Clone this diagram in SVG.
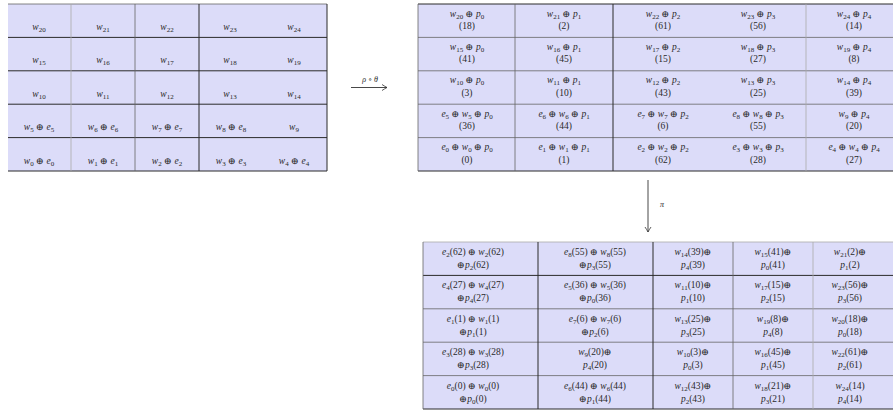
<svg xmlns="http://www.w3.org/2000/svg" width="893" height="412" viewBox="0 0 893 412">
<style>
text{font-family:"Liberation Serif","DejaVu Serif",serif;font-size:9.5px;fill:#2a2a2a;text-anchor:middle;font-style:italic}
.s{font-size:7px;font-style:normal}
.n{font-style:normal}
.fill{fill:#dcdcf9;stroke:none}
.dk{stroke:#2a2a2a;stroke-width:1}
.md{stroke:#666;stroke-width:0.8}
.lt{stroke:#aaa;stroke-width:0.8}
.arr{stroke:#333;stroke-width:0.9;fill:none}
</style>
<defs>
<marker id="ah" markerWidth="8" markerHeight="8" refX="6" refY="4" orient="auto" markerUnits="userSpaceOnUse">
<path d="M1,1 Q4,3 6,4 Q4,5 1,7" fill="none" stroke="#333" stroke-width="0.8"/>
</marker>
</defs>
<rect width="893" height="412" fill="#fff"/>

<!-- Left grid -->
<g id="gridA">
<rect class="fill" x="8" y="4" width="319" height="167"/>
<line class="md" x1="8" y1="4" x2="327" y2="4"/>
<line class="dk" x1="8" y1="37.4" x2="327" y2="37.4"/>
<line class="dk" x1="8" y1="70.8" x2="327" y2="70.8"/>
<line class="dk" x1="8" y1="104.2" x2="327" y2="104.2"/>
<line class="dk" x1="8" y1="137.6" x2="327" y2="137.6"/>
<line class="dk" x1="8" y1="171" x2="327" y2="171"/>
<line class="lt" x1="71" y1="4" x2="71" y2="171"/>
<line class="md" x1="135" y1="4" x2="135" y2="171"/>
<line class="dk" x1="199" y1="4" x2="199" y2="171"/>
<line class="dk" x1="327" y1="4" x2="327" y2="171"/>
</g>
<g id="gridA-text">
<text x="39" y="30">w<tspan class="s" dy="2">20</tspan></text>
<text x="103" y="30">w<tspan class="s" dy="2">21</tspan></text>
<text x="167" y="30">w<tspan class="s" dy="2">22</tspan></text>
<text x="230" y="30">w<tspan class="s" dy="2">23</tspan></text>
<text x="294" y="30">w<tspan class="s" dy="2">24</tspan></text>
<text x="39" y="63.4">w<tspan class="s" dy="2">15</tspan></text>
<text x="103" y="63.4">w<tspan class="s" dy="2">16</tspan></text>
<text x="167" y="63.4">w<tspan class="s" dy="2">17</tspan></text>
<text x="230" y="63.4">w<tspan class="s" dy="2">18</tspan></text>
<text x="294" y="63.4">w<tspan class="s" dy="2">19</tspan></text>
<text x="39" y="96.8">w<tspan class="s" dy="2">10</tspan></text>
<text x="103" y="96.8">w<tspan class="s" dy="2">11</tspan></text>
<text x="167" y="96.8">w<tspan class="s" dy="2">12</tspan></text>
<text x="230" y="96.8">w<tspan class="s" dy="2">13</tspan></text>
<text x="294" y="96.8">w<tspan class="s" dy="2">14</tspan></text>
<text x="39" y="130.2">w<tspan class="s" dy="2">5</tspan><tspan class="n" dy="-2"> ⊕ </tspan>e<tspan class="s" dy="2">5</tspan></text>
<text x="103" y="130.2">w<tspan class="s" dy="2">6</tspan><tspan class="n" dy="-2"> ⊕ </tspan>e<tspan class="s" dy="2">6</tspan></text>
<text x="167" y="130.2">w<tspan class="s" dy="2">7</tspan><tspan class="n" dy="-2"> ⊕ </tspan>e<tspan class="s" dy="2">7</tspan></text>
<text x="231" y="130.2">w<tspan class="s" dy="2">8</tspan><tspan class="n" dy="-2"> ⊕ </tspan>e<tspan class="s" dy="2">8</tspan></text>
<text x="294" y="130.2">w<tspan class="s" dy="2">9</tspan></text>
<text x="39" y="163.6">w<tspan class="s" dy="2">0</tspan><tspan class="n" dy="-2"> ⊕ </tspan>e<tspan class="s" dy="2">0</tspan></text>
<text x="103" y="163.6">w<tspan class="s" dy="2">1</tspan><tspan class="n" dy="-2"> ⊕ </tspan>e<tspan class="s" dy="2">1</tspan></text>
<text x="167" y="163.6">w<tspan class="s" dy="2">2</tspan><tspan class="n" dy="-2"> ⊕ </tspan>e<tspan class="s" dy="2">2</tspan></text>
<text x="231" y="163.6">w<tspan class="s" dy="2">3</tspan><tspan class="n" dy="-2"> ⊕ </tspan>e<tspan class="s" dy="2">3</tspan></text>
<text x="294" y="163.6">w<tspan class="s" dy="2">4</tspan><tspan class="n" dy="-2"> ⊕ </tspan>e<tspan class="s" dy="2">4</tspan></text>
</g>

<!-- Top right grid -->
<g id="gridB">
<rect class="fill" x="418" y="4" width="475" height="167"/>
<line class="dk" x1="418" y1="4" x2="893" y2="4"/>
<line class="md" x1="418" y1="37.4" x2="893" y2="37.4"/>
<line class="md" x1="418" y1="70.8" x2="893" y2="70.8"/>
<line class="md" x1="418" y1="104.2" x2="893" y2="104.2"/>
<line class="md" x1="418" y1="137.6" x2="893" y2="137.6"/>
<line class="dk" x1="418" y1="171" x2="893" y2="171"/>
<line class="md" x1="418" y1="4" x2="418" y2="171"/>
<line class="md" x1="515" y1="4" x2="515" y2="171"/>
<line class="dk" x1="613" y1="4" x2="613" y2="171"/>
<line class="lt" x1="806" y1="4" x2="806" y2="171"/>
</g>
<g id="gridB-text">
<text x="467" y="16.5">w<tspan class="s" dy="2">20</tspan><tspan class="n" dy="-2"> ⊕ </tspan>p<tspan class="s" dy="2">0</tspan></text>
<text x="467" y="29" class="n">(18)</text>
<text x="564" y="16.5">w<tspan class="s" dy="2">21</tspan><tspan class="n" dy="-2"> ⊕ </tspan>p<tspan class="s" dy="2">1</tspan></text>
<text x="564" y="29" class="n">(2)</text>
<text x="663" y="16.5">w<tspan class="s" dy="2">22</tspan><tspan class="n" dy="-2"> ⊕ </tspan>p<tspan class="s" dy="2">2</tspan></text>
<text x="663" y="29" class="n">(61)</text>
<text x="758" y="16.5">w<tspan class="s" dy="2">23</tspan><tspan class="n" dy="-2"> ⊕ </tspan>p<tspan class="s" dy="2">3</tspan></text>
<text x="758" y="29" class="n">(56)</text>
<text x="854" y="16.5">w<tspan class="s" dy="2">24</tspan><tspan class="n" dy="-2"> ⊕ </tspan>p<tspan class="s" dy="2">4</tspan></text>
<text x="854" y="29" class="n">(14)</text>

<text x="467" y="49.9">w<tspan class="s" dy="2">15</tspan><tspan class="n" dy="-2"> ⊕ </tspan>p<tspan class="s" dy="2">0</tspan></text>
<text x="467" y="62.4" class="n">(41)</text>
<text x="564" y="49.9">w<tspan class="s" dy="2">16</tspan><tspan class="n" dy="-2"> ⊕ </tspan>p<tspan class="s" dy="2">1</tspan></text>
<text x="564" y="62.4" class="n">(45)</text>
<text x="663" y="49.9">w<tspan class="s" dy="2">17</tspan><tspan class="n" dy="-2"> ⊕ </tspan>p<tspan class="s" dy="2">2</tspan></text>
<text x="663" y="62.4" class="n">(15)</text>
<text x="758" y="49.9">w<tspan class="s" dy="2">18</tspan><tspan class="n" dy="-2"> ⊕ </tspan>p<tspan class="s" dy="2">3</tspan></text>
<text x="758" y="62.4" class="n">(27)</text>
<text x="854" y="49.9">w<tspan class="s" dy="2">19</tspan><tspan class="n" dy="-2"> ⊕ </tspan>p<tspan class="s" dy="2">4</tspan></text>
<text x="854" y="62.4" class="n">(8)</text>

<text x="467" y="83.3">w<tspan class="s" dy="2">10</tspan><tspan class="n" dy="-2"> ⊕ </tspan>p<tspan class="s" dy="2">0</tspan></text>
<text x="467" y="95.8" class="n">(3)</text>
<text x="564" y="83.3">w<tspan class="s" dy="2">11</tspan><tspan class="n" dy="-2"> ⊕ </tspan>p<tspan class="s" dy="2">1</tspan></text>
<text x="564" y="95.8" class="n">(10)</text>
<text x="663" y="83.3">w<tspan class="s" dy="2">12</tspan><tspan class="n" dy="-2"> ⊕ </tspan>p<tspan class="s" dy="2">2</tspan></text>
<text x="663" y="95.8" class="n">(43)</text>
<text x="758" y="83.3">w<tspan class="s" dy="2">13</tspan><tspan class="n" dy="-2"> ⊕ </tspan>p<tspan class="s" dy="2">3</tspan></text>
<text x="758" y="95.8" class="n">(25)</text>
<text x="854" y="83.3">w<tspan class="s" dy="2">14</tspan><tspan class="n" dy="-2"> ⊕ </tspan>p<tspan class="s" dy="2">4</tspan></text>
<text x="854" y="95.8" class="n">(39)</text>

<text x="467" y="116.7">e<tspan class="s" dy="2">5</tspan><tspan class="n" dy="-2"> ⊕ </tspan>w<tspan class="s" dy="2">5</tspan><tspan class="n" dy="-2"> ⊕ </tspan>p<tspan class="s" dy="2">0</tspan></text>
<text x="467" y="129.2" class="n">(36)</text>
<text x="564" y="116.7">e<tspan class="s" dy="2">6</tspan><tspan class="n" dy="-2"> ⊕ </tspan>w<tspan class="s" dy="2">6</tspan><tspan class="n" dy="-2"> ⊕ </tspan>p<tspan class="s" dy="2">1</tspan></text>
<text x="564" y="129.2" class="n">(44)</text>
<text x="663" y="116.7">e<tspan class="s" dy="2">7</tspan><tspan class="n" dy="-2"> ⊕ </tspan>w<tspan class="s" dy="2">7</tspan><tspan class="n" dy="-2"> ⊕ </tspan>p<tspan class="s" dy="2">2</tspan></text>
<text x="663" y="129.2" class="n">(6)</text>
<text x="758" y="116.7">e<tspan class="s" dy="2">8</tspan><tspan class="n" dy="-2"> ⊕ </tspan>w<tspan class="s" dy="2">8</tspan><tspan class="n" dy="-2"> ⊕ </tspan>p<tspan class="s" dy="2">3</tspan></text>
<text x="758" y="129.2" class="n">(55)</text>
<text x="854" y="116.7">w<tspan class="s" dy="2">9</tspan><tspan class="n" dy="-2"> ⊕ </tspan>p<tspan class="s" dy="2">4</tspan></text>
<text x="854" y="129.2" class="n">(20)</text>

<text x="467" y="150.1">e<tspan class="s" dy="2">0</tspan><tspan class="n" dy="-2"> ⊕ </tspan>w<tspan class="s" dy="2">0</tspan><tspan class="n" dy="-2"> ⊕ </tspan>p<tspan class="s" dy="2">0</tspan></text>
<text x="467" y="162.6" class="n">(0)</text>
<text x="564" y="150.1">e<tspan class="s" dy="2">1</tspan><tspan class="n" dy="-2"> ⊕ </tspan>w<tspan class="s" dy="2">1</tspan><tspan class="n" dy="-2"> ⊕ </tspan>p<tspan class="s" dy="2">1</tspan></text>
<text x="564" y="162.6" class="n">(1)</text>
<text x="663" y="150.1">e<tspan class="s" dy="2">2</tspan><tspan class="n" dy="-2"> ⊕ </tspan>w<tspan class="s" dy="2">2</tspan><tspan class="n" dy="-2"> ⊕ </tspan>p<tspan class="s" dy="2">2</tspan></text>
<text x="663" y="162.6" class="n">(62)</text>
<text x="758" y="150.1">e<tspan class="s" dy="2">3</tspan><tspan class="n" dy="-2"> ⊕ </tspan>w<tspan class="s" dy="2">3</tspan><tspan class="n" dy="-2"> ⊕ </tspan>p<tspan class="s" dy="2">3</tspan></text>
<text x="758" y="162.6" class="n">(28)</text>
<text x="854" y="150.1">e<tspan class="s" dy="2">4</tspan><tspan class="n" dy="-2"> ⊕ </tspan>w<tspan class="s" dy="2">4</tspan><tspan class="n" dy="-2"> ⊕ </tspan>p<tspan class="s" dy="2">4</tspan></text>
<text x="854" y="162.6" class="n">(27)</text>
</g>

<!-- Bottom grid -->
<g id="gridC">
<rect class="fill" x="423" y="242" width="470" height="167"/>
<line class="lt" x1="423" y1="242" x2="893" y2="242"/>
<line class="dk" x1="423" y1="275.4" x2="893" y2="275.4"/>
<line class="md" x1="423" y1="308.8" x2="893" y2="308.8"/>
<line class="md" x1="423" y1="342.2" x2="893" y2="342.2"/>
<line class="md" x1="423" y1="375.6" x2="893" y2="375.6"/>
<line class="dk" x1="423" y1="409" x2="893" y2="409"/>
<line class="md" x1="423" y1="242" x2="423" y2="409"/>
<line class="dk" x1="538" y1="242" x2="538" y2="409"/>
<line class="dk" x1="653" y1="242" x2="653" y2="409"/>
<line class="md" x1="733" y1="242" x2="733" y2="409"/>
<line class="lt" x1="813" y1="242" x2="813" y2="409"/>
</g>
<g id="gridC-text">
<text x="473" y="255">e<tspan class="s" dy="2">2</tspan><tspan class="n" dy="-2">(62) ⊕ </tspan>w<tspan class="s" dy="2">2</tspan><tspan class="n" dy="-2">(62)</tspan></text>
<text x="473" y="268"><tspan class="n">⊕</tspan>p<tspan class="s" dy="2">2</tspan><tspan class="n" dy="-2">(62)</tspan></text>
<text x="595" y="255">e<tspan class="s" dy="2">8</tspan><tspan class="n" dy="-2">(55) ⊕ </tspan>w<tspan class="s" dy="2">8</tspan><tspan class="n" dy="-2">(55)</tspan></text>
<text x="595" y="268"><tspan class="n">⊕</tspan>p<tspan class="s" dy="2">3</tspan><tspan class="n" dy="-2">(55)</tspan></text>
<text x="693" y="255">w<tspan class="s" dy="2">14</tspan><tspan class="n" dy="-2">(39)⊕</tspan></text>
<text x="693" y="268">p<tspan class="s" dy="2">4</tspan><tspan class="n" dy="-2">(39)</tspan></text>
<text x="773" y="255">w<tspan class="s" dy="2">15</tspan><tspan class="n" dy="-2">(41)⊕</tspan></text>
<text x="773" y="268">p<tspan class="s" dy="2">0</tspan><tspan class="n" dy="-2">(41)</tspan></text>
<text x="850" y="255">w<tspan class="s" dy="2">21</tspan><tspan class="n" dy="-2">(2)⊕</tspan></text>
<text x="850" y="268">p<tspan class="s" dy="2">1</tspan><tspan class="n" dy="-2">(2)</tspan></text>

<text x="473" y="288.4">e<tspan class="s" dy="2">4</tspan><tspan class="n" dy="-2">(27) ⊕ </tspan>w<tspan class="s" dy="2">4</tspan><tspan class="n" dy="-2">(27)</tspan></text>
<text x="473" y="301.4"><tspan class="n">⊕</tspan>p<tspan class="s" dy="2">4</tspan><tspan class="n" dy="-2">(27)</tspan></text>
<text x="595" y="288.4">e<tspan class="s" dy="2">5</tspan><tspan class="n" dy="-2">(36) ⊕ </tspan>w<tspan class="s" dy="2">5</tspan><tspan class="n" dy="-2">(36)</tspan></text>
<text x="595" y="301.4"><tspan class="n">⊕</tspan>p<tspan class="s" dy="2">0</tspan><tspan class="n" dy="-2">(36)</tspan></text>
<text x="693" y="288.4">w<tspan class="s" dy="2">11</tspan><tspan class="n" dy="-2">(10)⊕</tspan></text>
<text x="693" y="301.4">p<tspan class="s" dy="2">1</tspan><tspan class="n" dy="-2">(10)</tspan></text>
<text x="773" y="288.4">w<tspan class="s" dy="2">17</tspan><tspan class="n" dy="-2">(15)⊕</tspan></text>
<text x="773" y="301.4">p<tspan class="s" dy="2">2</tspan><tspan class="n" dy="-2">(15)</tspan></text>
<text x="850" y="288.4">w<tspan class="s" dy="2">23</tspan><tspan class="n" dy="-2">(56)⊕</tspan></text>
<text x="850" y="301.4">p<tspan class="s" dy="2">3</tspan><tspan class="n" dy="-2">(56)</tspan></text>

<text x="473" y="321.8">e<tspan class="s" dy="2">1</tspan><tspan class="n" dy="-2">(1) ⊕ </tspan>w<tspan class="s" dy="2">1</tspan><tspan class="n" dy="-2">(1)</tspan></text>
<text x="473" y="334.8"><tspan class="n">⊕</tspan>p<tspan class="s" dy="2">1</tspan><tspan class="n" dy="-2">(1)</tspan></text>
<text x="595" y="321.8">e<tspan class="s" dy="2">7</tspan><tspan class="n" dy="-2">(6) ⊕ </tspan>w<tspan class="s" dy="2">7</tspan><tspan class="n" dy="-2">(6)</tspan></text>
<text x="595" y="334.8"><tspan class="n">⊕</tspan>p<tspan class="s" dy="2">2</tspan><tspan class="n" dy="-2">(6)</tspan></text>
<text x="693" y="321.8">w<tspan class="s" dy="2">13</tspan><tspan class="n" dy="-2">(25)⊕</tspan></text>
<text x="693" y="334.8">p<tspan class="s" dy="2">3</tspan><tspan class="n" dy="-2">(25)</tspan></text>
<text x="773" y="321.8">w<tspan class="s" dy="2">19</tspan><tspan class="n" dy="-2">(8)⊕</tspan></text>
<text x="773" y="334.8">p<tspan class="s" dy="2">4</tspan><tspan class="n" dy="-2">(8)</tspan></text>
<text x="850" y="321.8">w<tspan class="s" dy="2">20</tspan><tspan class="n" dy="-2">(18)⊕</tspan></text>
<text x="850" y="334.8">p<tspan class="s" dy="2">0</tspan><tspan class="n" dy="-2">(18)</tspan></text>

<text x="473" y="355.2">e<tspan class="s" dy="2">3</tspan><tspan class="n" dy="-2">(28) ⊕ </tspan>w<tspan class="s" dy="2">3</tspan><tspan class="n" dy="-2">(28)</tspan></text>
<text x="473" y="368.2"><tspan class="n">⊕</tspan>p<tspan class="s" dy="2">3</tspan><tspan class="n" dy="-2">(28)</tspan></text>
<text x="595" y="355.2">w<tspan class="s" dy="2">9</tspan><tspan class="n" dy="-2">(20)⊕</tspan></text>
<text x="595" y="368.2">p<tspan class="s" dy="2">4</tspan><tspan class="n" dy="-2">(20)</tspan></text>
<text x="693" y="355.2">w<tspan class="s" dy="2">10</tspan><tspan class="n" dy="-2">(3)⊕</tspan></text>
<text x="693" y="368.2">p<tspan class="s" dy="2">0</tspan><tspan class="n" dy="-2">(3)</tspan></text>
<text x="773" y="355.2">w<tspan class="s" dy="2">16</tspan><tspan class="n" dy="-2">(45)⊕</tspan></text>
<text x="773" y="368.2">p<tspan class="s" dy="2">1</tspan><tspan class="n" dy="-2">(45)</tspan></text>
<text x="850" y="355.2">w<tspan class="s" dy="2">22</tspan><tspan class="n" dy="-2">(61)⊕</tspan></text>
<text x="850" y="368.2">p<tspan class="s" dy="2">2</tspan><tspan class="n" dy="-2">(61)</tspan></text>

<text x="473" y="388.6">e<tspan class="s" dy="2">0</tspan><tspan class="n" dy="-2">(0) ⊕ </tspan>w<tspan class="s" dy="2">0</tspan><tspan class="n" dy="-2">(0)</tspan></text>
<text x="473" y="401.6"><tspan class="n">⊕</tspan>p<tspan class="s" dy="2">0</tspan><tspan class="n" dy="-2">(0)</tspan></text>
<text x="595" y="388.6">e<tspan class="s" dy="2">6</tspan><tspan class="n" dy="-2">(44) ⊕ </tspan>w<tspan class="s" dy="2">6</tspan><tspan class="n" dy="-2">(44)</tspan></text>
<text x="595" y="401.6"><tspan class="n">⊕</tspan>p<tspan class="s" dy="2">1</tspan><tspan class="n" dy="-2">(44)</tspan></text>
<text x="693" y="388.6">w<tspan class="s" dy="2">12</tspan><tspan class="n" dy="-2">(43)⊕</tspan></text>
<text x="693" y="401.6">p<tspan class="s" dy="2">2</tspan><tspan class="n" dy="-2">(43)</tspan></text>
<text x="773" y="388.6">w<tspan class="s" dy="2">18</tspan><tspan class="n" dy="-2">(21)⊕</tspan></text>
<text x="773" y="401.6">p<tspan class="s" dy="2">3</tspan><tspan class="n" dy="-2">(21)</tspan></text>
<text x="850" y="388.6">w<tspan class="s" dy="2">24</tspan><tspan class="n" dy="-2">(14)</tspan></text>
<text x="850" y="401.6">p<tspan class="s" dy="2">4</tspan><tspan class="n" dy="-2">(14)</tspan></text>
</g>

<!-- Connectors -->
<g id="connectors">
<line class="arr" x1="351" y1="87.5" x2="387" y2="87.5" marker-end="url(#ah)"/>
<text x="370" y="82" style="font-size:8px">ρ <tspan class="n">∘</tspan> θ</text>
<line class="arr" x1="648" y1="180" x2="648" y2="232" marker-end="url(#ah)"/>
<text x="662" y="207" style="font-size:8px">π</text>
</g>
</svg>
